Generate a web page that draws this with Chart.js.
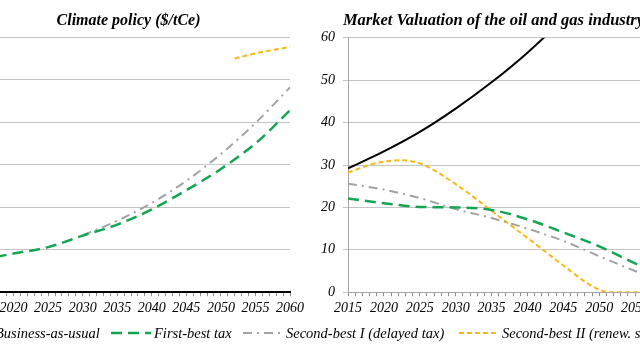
<!DOCTYPE html>
<html>
<head>
<meta charset="utf-8">
<script src="https://cdn.jsdelivr.net/npm/chart.js@4.4.1/dist/chart.umd.min.js"></script>
<style>
  html, body { margin: 0; width: 640px; height: 360px; overflow: hidden; background: #fff; }
  .box { position: absolute; top: 0; height: 325px; }
  #left-box { left: -51px; width: 359px; }
  #right-box { left: 298px; width: 391px; }
  #legend { position: absolute; left: 0; top: 323px; width: 640px; height: 20px;
            font: italic 14.5px "Liberation Serif", serif; color: #000; }
  .item { position: absolute; top: 0; white-space: nowrap; display: flex; align-items: center; height: 20px; }
  .item svg { margin-right: 3px; }
</style>
</head>
<body>
<div class="box" id="left-box"><canvas id="policy-chart"></canvas></div>
<div class="box" id="right-box"><canvas id="valuation-chart"></canvas></div>
<div id="legend"></div>

<script>
// --- Data ---
const seriesNames = ["Business-as-usual", "First-best tax", "Second-best I (delayed tax)", "Second-best II (renew. subsidy)"];
const years = [2015, 2020, 2025, 2030, 2035, 2040, 2045, 2050, 2055, 2060];

// Climate policy ($/tCe)
const policyBAU = [0, 0, 0, 0, 0, 0, 0, 0, 0, 0];
const policyFirstBest = [75, 91, 106, 133, 159, 195, 240, 290, 350, 428];
const policyDelayedYears = [2030, 2035, 2040, 2045, 2050, 2055, 2060];
const policyDelayed = [134, 168, 210, 262, 325, 398, 482];
const policyRenewYears = [2052, 2055, 2060];
const policyRenew = [550, 562, 577];

// Market valuation of the oil and gas industry
const valueBAU = [29.2, 33.2, 37.8, 43.3, 49.5, 56.5, 64.5, 73.5, 83, 94];
const valueFirstBest = [22.1, 21.0, 20.1, 20.0, 19.4, 17.2, 14.1, 10.8, 6.8, 3.0];
const valueDelayed = [25.6, 24.2, 22.2, 19.6, 17.5, 15.0, 12.1, 8.5, 5.0, 2.0];
const valueRenewYears = [2015, 2018, 2020, 2022.5, 2025, 2030, 2035, 2040, 2045, 2048, 2050, 2051.5, 2055, 2060];
const valueRenew = [28.2, 30.0, 30.8, 31.1, 30.4, 25.5, 19.2, 12.8, 6.3, 2.5, 0.6, 0, 0, 0];

// --- Styles per series ---
const styles = [
  { color: "#000000", width: 2, dash: [] },
  { color: "#13a651", width: 2.5, dash: [11, 6] },
  { color: "#a3a3a3", width: 2, dash: [9, 5, 2, 5] },
  { color: "#f7b917", width: 2, dash: [5, 3] },
];

const serif = '"Liberation Serif", "Times New Roman", serif';
const pairs = (xs, ys) => xs.map((x, i) => ({ x: x, y: ys[i] }));

function lineSet(idx, data) {
  const s = styles[idx];
  return {
    label: seriesNames[idx],
    data: data,
    borderColor: s.color,
    borderWidth: s.width,
    borderDash: s.dash,
    pointRadius: 0,
    cubicInterpolationMode: "monotone",
    fill: false,
  };
}

function makeOptions(title, titleSize, yMax, yStep, yWidth, axisColor, axisWidth) {
  return {
    responsive: true,
    maintainAspectRatio: false,
    animation: false,
    layout: { padding: { bottom: 4 } },
    plugins: {
      legend: { display: false },
      tooltip: { enabled: false },
      title: {
        display: true,
        text: title,
        color: "#000",
        font: { family: serif, size: titleSize, style: "italic", weight: "bold" },
        padding: { top: 11, bottom: 7 },
      },
    },
    scales: {
      x: {
        type: "linear",
        min: 2015,
        max: 2060,
        border: { color: axisColor, width: axisWidth },
        grid: { drawOnChartArea: false, drawTicks: true, tickLength: 4, color: "#8c8c8c" },
        ticks: {
          stepSize: 1,
          autoSkip: false,
          maxRotation: 0,
          padding: 4,
          color: "#000",
          font: { family: serif, size: 14, style: "italic" },
          callback: (v) => (v % 5 === 0 ? String(v) : ""),
        },
      },
      y: {
        min: 0,
        max: yMax,
        afterFit: (scale) => { scale.width = yWidth; },
        border: { color: "#a6a6a6", width: 1 },
        grid: { color: "#c4c4c4", tickLength: 5 },
        ticks: {
          stepSize: yStep,
          padding: 8,
          color: "#000",
          font: { family: serif, size: 14, style: "italic" },
        },
      },
    },
  };
}

new Chart(document.getElementById("policy-chart"), {
  type: "line",
  data: {
    datasets: [
      lineSet(0, pairs(years, policyBAU)),
      lineSet(1, pairs(years, policyFirstBest)),
      lineSet(2, pairs(policyDelayedYears, policyDelayed)),
      lineSet(3, pairs(policyRenewYears, policyRenew)),
    ],
  },
  options: makeOptions("Climate policy ($/tCe)", 16, 600, 100, 30, "#000", 2),
});

new Chart(document.getElementById("valuation-chart"), {
  type: "line",
  data: {
    datasets: [
      lineSet(0, pairs(years, valueBAU)),
      lineSet(1, pairs(years, valueFirstBest)),
      lineSet(2, pairs(years, valueDelayed)),
      lineSet(3, pairs(valueRenewYears, valueRenew)),
    ],
  },
  options: makeOptions("Market Valuation of the oil and gas industry", 16.5, 60, 10, 50, "#a6a6a6", 1),
});

// --- Shared legend under both panels ---
const legendLeft = [-48, 111, 243, 459];
const legendEl = document.getElementById("legend");
seriesNames.forEach((name, i) => {
  const s = styles[i];
  const item = document.createElement("div");
  item.className = "item";
  item.style.left = legendLeft[i] + "px";
  item.innerHTML = `
    <svg width="40" height="8"><line x1="0" y1="4" x2="40" y2="4" stroke="${s.color}"
      stroke-width="${s.width}" stroke-dasharray="${s.dash.join(" ")}"/></svg>
    <span>${name}</span>`;
  legendEl.appendChild(item);
});
</script>
</body>
</html>
